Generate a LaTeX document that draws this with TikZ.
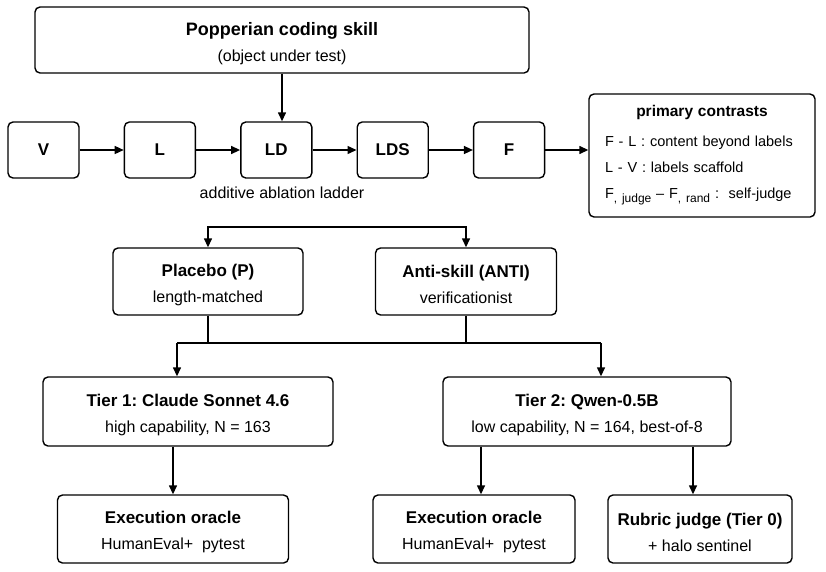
\documentclass[tikz,border=0pt]{standalone}
\usepackage{fontspec}
\setmainfont{Liberation Sans}
\usetikzlibrary{arrows.meta,positioning,calc}
\frenchspacing

\newcommand{\boxlines}[2]{{\fontsize{17}{20}\selectfont\bfseries\rule{0pt}{19pt}#1}\\[6pt]#2}
\newcommand{\sub}[1]{\raisebox{-4pt}{\fontsize{12}{12}\selectfont #1}}

\tikzset{
    stage/.style={
        rectangle, rounded corners=5pt, draw=black, line width=1.4pt,
        align=center, inner sep=0pt, font=\fontsize{16}{20}\selectfont
    },
    rung/.style={
        stage, minimum width=71pt, minimum height=56pt,
        font=\fontsize{17}{20}\selectfont\bfseries
    },
    contrasts/.style={
        stage, minimum width=226pt, minimum height=123pt,
        text width=194pt, align=left, font=\fontsize{14.5}{20}\selectfont
    },
    arrow/.style={-{Triangle[length=9pt,width=8pt]}, line width=1.4pt},
    link/.style={draw, line width=1.4pt}
}

\begin{document}
\begin{tikzpicture}[x=1pt, y=-1pt]
\useasboundingbox (0,0) rectangle (826,571);

% Object under test
\node[stage, minimum width=494pt, minimum height=66pt] (skill) at (282,40)
    {{\fontsize{18}{20}\selectfont\bfseries\rule{0pt}{20pt}Popperian coding skill}\\[6pt](object under test)};

% Ablation ladder
\node[rung] (V) at (43.5,150) {V};
\node[rung, right=44pt of V]   (L)   {L};
\node[rung, right=44pt of L]   (LD)  {LD};
\node[rung, right=44pt of LD]  (LDS) {LDS};
\node[rung, right=44pt of LDS] (F)   {F};
\node[font=\fontsize{16}{18}\selectfont] (ladder) at (282,193) {additive ablation ladder};

\node[contrasts] (primary) at (702,155.5)
    {\makebox[194pt]{\fontsize{15.5}{20}\selectfont\bfseries primary contrasts}\\[10pt]
     F - L : content beyond labels\\[6pt]
     L - V : labels scaffold\\[6pt]
     F\sub{, judge} -- F\sub{, rand} :\ \ self-judge};

% Controls
\node[stage, minimum width=190pt, minimum height=67pt] (placebo) at (208,281.5)
    {\boxlines{Placebo (P)}{length-matched}};
\node[stage, minimum width=181pt, minimum height=67pt] (anti) at (466,281.5)
    {\boxlines{Anti-skill (ANTI)}{verificationist}};

% Model tiers
\node[stage, minimum width=290pt, minimum height=69pt] (tier1) at (188,411.5)
    {\boxlines{Tier 1: Claude Sonnet 4.6}{high capability, N = 163}};
\node[stage, minimum width=288pt, minimum height=69pt] (tier2) at (587,411.5)
    {\boxlines{Tier 2: Qwen-0.5B}{low capability, N = 164, best-of-8}};

% Graders
\node[stage, minimum width=231pt, minimum height=68pt] (exec1) at (173,529)
    {\boxlines{Execution oracle}{HumanEval+\ \ pytest}};
\node[stage, minimum width=202pt, minimum height=68pt] (exec2) at (474,529)
    {\boxlines{Execution oracle}{HumanEval+\ \ pytest}};
\node[stage, minimum width=184pt, minimum height=68pt] (rubric) at (700,529)
    {\boxlines{Rubric judge (Tier 0)}{+ halo sentinel}};

% Fork points
\coordinate (ladderfork) at (336,227);
\coordinate (forkL) at (177,343);
\coordinate (forkR) at (601,343);

% Connectors
\draw[arrow] (skill.south) -- (skill.south |- LD.north);
\draw[arrow] (V)   -- (L);
\draw[arrow] (L)   -- (LD);
\draw[arrow] (LD)  -- (LDS);
\draw[arrow] (LDS) -- (F);
\draw[arrow] (F.east) -- (F.east -| primary.west);

\draw[arrow] (ladderfork) -| (placebo.north);
\draw[arrow] (ladderfork) -| (anti.north);

\draw[link] (placebo.south) -- (placebo.south |- forkL);
\draw[link] (anti.south) -- (anti.south |- forkL);
\draw[link] (forkL) -- (forkR);
\draw[arrow] (forkL) -- (forkL |- tier1.north);
\draw[arrow] (forkR) -- (forkR |- tier2.north);

\draw[arrow] (exec1.north |- tier1.south) -- (exec1.north);
\draw[arrow] ([xshift=7pt]exec2.north |- tier2.south) -- ([xshift=7pt]exec2.north);
\draw[arrow] ([xshift=-7pt]rubric.north |- tier2.south) -- ([xshift=-7pt]rubric.north);

\end{tikzpicture}
\end{document}
